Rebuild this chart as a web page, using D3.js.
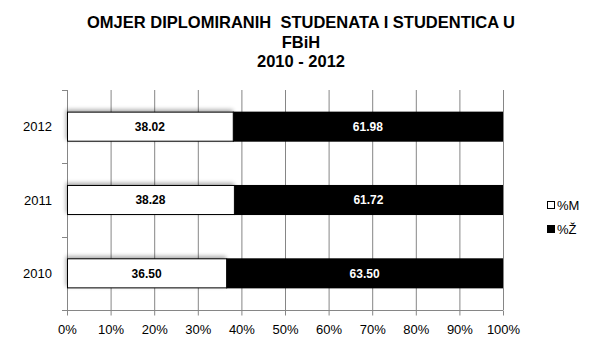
<!DOCTYPE html>
<html>
<head>
<meta charset="utf-8">
<script src="https://cdn.jsdelivr.net/npm/d3@7"></script>
<style>
  body { margin:0; background:#fff; }
  svg { display:block; font-family:"Liberation Sans", Arial, sans-serif; }
</style>
</head>
<body>
<script>
// data
let years = ["2010", "2011", "2012"];
let maleShare = [36.50, 38.28, 38.02];
let femaleShare = [63.50, 61.72, 61.98];
let seriesNames = ["%M", "%Ž"];
let xTicks = [0, 10, 20, 30, 40, 50, 60, 70, 80, 90, 100];
let titleLines = ["OMJER DIPLOMIRANIH  STUDENATA I STUDENTICA U", "FBiH", "2010 - 2012"];

let width = 602, height = 362;
let plot = {left:67, right:503, top:90, bottom:310};
let gridColor = "#868686";

let svg = d3.select("body").append("svg").attr("width", width).attr("height", height);
svg.append("rect").attr("width", width).attr("height", height).attr("fill", "#fff");

// soft shadow like excel
let defs = svg.append("defs");
let f = defs.append("filter").attr("id", "shadow").attr("x", "-10%").attr("y", "-40%").attr("width", "120%").attr("height", "180%");
f.append("feGaussianBlur").attr("in", "SourceAlpha").attr("stdDeviation", 2);
f.append("feOffset").attr("dx", -1).attr("dy", -2).attr("result", "ob");
f.append("feComponentTransfer").append("feFuncA").attr("type", "linear").attr("slope", 0.35);
let m = f.append("feMerge");
m.append("feMergeNode");
m.append("feMergeNode").attr("in", "SourceGraphic");

// title
svg.append("text")
  .attr("x", 301).attr("y", 28)
  .attr("text-anchor", "middle")
  .style("font-weight", "bold").style("font-size", "16.5px")
  .style("white-space", "pre")
  .selectAll("tspan").data(titleLines).enter().append("tspan")
  .attr("x", 301).attr("dy", (d, i) => i === 0 ? 0 : 19.5)
  .text(d => d);

let x = d3.scaleLinear().domain([0, 100]).range([plot.left, plot.right]);
let y = d3.scaleBand().domain(years.slice().reverse()).range([plot.top, plot.bottom]).paddingInner(0.59).paddingOuter(0.295);

// gridlines
svg.append("g").selectAll("line").data(xTicks.slice(1)).enter().append("line")
  .attr("x1", d => x(d) + 0.5).attr("x2", d => x(d) + 0.5)
  .attr("y1", plot.top).attr("y2", plot.bottom)
  .attr("stroke", gridColor).attr("stroke-width", 1);

// x axis
let xAxis = svg.append("g")
  .attr("transform", "translate(0," + (plot.bottom + 0.5) + ")")
  .call(d3.axisBottom(x).tickValues(xTicks).tickFormat(d => d + "%").tickSize(5).tickSizeOuter(0).tickPadding(9));
xAxis.select(".domain").attr("stroke", gridColor);
xAxis.selectAll(".tick line").attr("stroke", gridColor);
xAxis.selectAll("text").style("font-size", "13px").attr("fill", "#000").style("font-family", "'Liberation Sans', Arial, sans-serif");
xAxis.select(".domain").attr("d", "M" + (plot.left - 5) + ",0H" + plot.right);

// y axis
let yBounds = d3.scaleLinear().domain([0, 3]).range([plot.bottom, plot.top]);
let yAxisG = svg.append("g");
yAxisG.append("line")
  .attr("x1", plot.left + 0.5).attr("x2", plot.left + 0.5)
  .attr("y1", plot.top).attr("y2", plot.bottom)
  .attr("stroke", gridColor);
yAxisG.selectAll(".yt").data([1, 2, 3]).enter().append("line")
  .attr("x1", plot.left - 5).attr("x2", plot.left)
  .attr("y1", d => Math.round(yBounds(d)) + 0.5).attr("y2", d => Math.round(yBounds(d)) + 0.5)
  .attr("stroke", gridColor);
yAxisG.selectAll("text").data(years).enter().append("text")
  .attr("x", 52).attr("y", d => y(d) + y.bandwidth() / 2)
  .attr("dy", "0.36em").attr("text-anchor", "end")
  .style("font-size", "13px")
  .text(d => d);

// bars
let rows = years.map((yr, i) => ({year: yr, m: maleShare[i], z: femaleShare[i]}));

let bars = svg.append("g");
bars.selectAll(".zbar").data(rows).enter().append("rect")
  .attr("x", d => x(d.m)).attr("width", d => x(d.m + d.z) - x(d.m))
  .attr("y", d => y(d.year)).attr("height", y.bandwidth())
  .attr("fill", "#000");
bars.selectAll(".mbar").data(rows).enter().append("rect")
  .attr("x", x(0) + 0.5).attr("width", d => x(d.m) - x(0))
  .attr("y", d => y(d.year) + 0.5).attr("height", y.bandwidth() - 1)
  .attr("fill", "#fff").attr("stroke", "#000").attr("stroke-width", 1)
  .attr("filter", "url(#shadow)");

// value labels
let lbl = svg.append("g").style("font-size", "12px").style("font-weight", "bold").attr("text-anchor", "middle");
lbl.selectAll(".ml").data(rows).enter().append("text")
  .attr("x", d => x(d.m / 2)).attr("y", d => y(d.year) + y.bandwidth() / 2).attr("dy", "0.36em")
  .attr("fill", "#000").text(d => d.m.toFixed(2));
lbl.selectAll(".zl").data(rows).enter().append("text")
  .attr("x", d => x(d.m + d.z / 2)).attr("y", d => y(d.year) + y.bandwidth() / 2).attr("dy", "0.36em")
  .attr("fill", "#fff").text(d => d.z.toFixed(2));

// legend
let legend = svg.append("g").attr("transform", "translate(547,0)");
let legendY = [205, 229];
let leg = legend.selectAll("g").data(seriesNames).enter().append("g")
  .attr("transform", (d, i) => "translate(0," + legendY[i] + ")");
leg.append("rect")
  .attr("x", 0.5).attr("y", -3.5).attr("width", 7).attr("height", 7)
  .attr("fill", (d, i) => i === 0 ? "#fff" : "#000").attr("stroke", "#000");
leg.append("text")
  .attr("x", 10).attr("dy", "0.36em")
  .style("font-size", "13px")
  .text(d => d);
</script>
</body>
</html>
